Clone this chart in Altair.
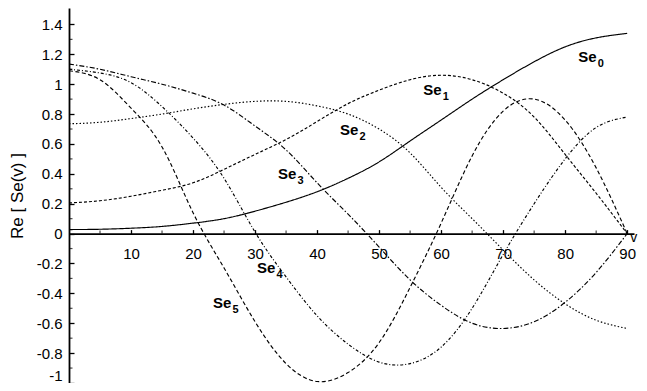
import altair as alt
import pandas as pd

# ---- data ----
v = [0, 5, 10, 15, 20, 25, 30, 35, 40, 45, 50, 55, 60, 65, 70, 75, 80, 85, 90]
se0 = [0.027, 0.029, 0.036, 0.048, 0.07, 0.10, 0.15, 0.21, 0.28, 0.37, 0.48, 0.62, 0.76, 0.90, 1.03, 1.15, 1.25, 1.31, 1.34]
se1 = [0.205, 0.22, 0.25, 0.29, 0.34, 0.43, 0.53, 0.63, 0.75, 0.87, 0.96, 1.03, 1.06, 1.03, 0.94, 0.78, 0.53, 0.27, 0.0]
se2 = [0.735, 0.745, 0.77, 0.80, 0.835, 0.865, 0.885, 0.885, 0.855, 0.80, 0.70, 0.54, 0.31, 0.10, -0.11, -0.31, -0.47, -0.58, -0.635]
se3 = [1.135, 1.10, 1.05, 1.00, 0.94, 0.86, 0.72, 0.56, 0.34, 0.13, -0.09, -0.31, -0.48, -0.60, -0.635, -0.59, -0.46, -0.26, 0.0]
se4 = [1.10, 1.075, 1.01, 0.85, 0.64, 0.37, 0.01, -0.29, -0.55, -0.74, -0.86, -0.87, -0.76, -0.50, -0.14, 0.20, 0.50, 0.71, 0.78]
se5 = [1.09, 1.03, 0.84, 0.58, 0.14, -0.23, -0.59, -0.87, -0.99, -0.93, -0.73, -0.36, 0.07, 0.52, 0.82, 0.90, 0.76, 0.44, 0.0]

series_names = ["Se0", "Se1", "Se2", "Se3", "Se4", "Se5"]
series_vals = [se0, se1, se2, se3, se4, se5]
dashes = [[1, 0], [3, 2], [1.5, 2], [5, 2, 1.5, 2], [3, 2, 1, 2], [4, 2.5]]

x_ticks = [10, 20, 30, 40, 50, 60, 70, 80, 90]
x_minor = [5, 15, 25, 35, 45, 55, 65, 75, 85]
y_ticks = [-1, -0.8, -0.6, -0.4, -0.2, 0, 0.2, 0.4, 0.6, 0.8, 1, 1.2, 1.4]
y_minor = [-0.9, -0.7, -0.5, -0.3, -0.1, 0.1, 0.3, 0.5, 0.7, 0.9, 1.1, 1.3]

lab_sub = ["0", "1", "2", "3", "4", "5"]
lab_x = [82.1, 57.1, 43.7, 33.7, 30.3, 23.2]
lab_y = [1.148, 0.927, 0.660, 0.365, -0.264, -0.498]

# ---- tables ----
rows = []
for name, vals in zip(series_names, series_vals):
    for xv, yv in zip(v, vals):
        rows.append({"x": xv, "y": yv, "series": name})
df = pd.DataFrame(rows)
labels = pd.DataFrame({"x": lab_x, "y": lab_y, "sub": lab_sub, "se": ["Se"] * 6})
xminor_df = pd.DataFrame({"x": x_minor})
yminor_df = pd.DataFrame({"y": y_minor})
vlab = pd.DataFrame({"x": [90.5], "y": [-0.055], "t": ["v"]})

FONT = "Liberation Sans"
W, H = 565, 375
y_min, y_max = -1, 1.51
zero_from_top = y_max / (y_max - y_min) * H

xs = alt.Scale(domain=[0, 91.1], nice=False, zero=False)
ys = alt.Scale(domain=[y_min, y_max], nice=False, zero=False)

x_axis = alt.Axis(
    orient="top", offset=-zero_from_top, values=x_ticks, tickSize=4, tickWidth=1.3,
    tickColor="black", domainColor="black", domainWidth=1.8, labelPadding=-17,
    labelBaseline="top", labelFont=FONT, labelFontSize=15, labelColor="black",
    labelOverlap=False, labelFlush=False, grid=False, title=None,
)
y_axis = alt.Axis(
    orient="right", offset=-W, values=y_ticks, tickSize=5, tickWidth=1.3,
    tickColor="black", domainColor="black", domainWidth=1.8, labelPadding=-12,
    labelAlign="right",
    labelBaseline={"condition": {"test": "datum.value == -1", "value": "bottom"}, "value": "middle"},
    labelFont=FONT, labelFontSize=15,
    labelColor="black", labelOverlap=False, labelFlush=False, grid=False,
    labelExpr="toString(datum.value)",
    title="Re [ Se(v) ]", titleFont=FONT, titleFontSize=17, titleFontWeight="normal",
    titleColor="black", titleAngle=270, titleX=-52, titleY=(H / 2), titleAlign="center",
    titleBaseline="middle",
)

lines = alt.Chart(df).mark_line(interpolate="natural", color="black", strokeWidth=1.15, clip=True).encode(
    x=alt.X("x:Q", scale=xs, axis=x_axis),
    y=alt.Y("y:Q", scale=ys, axis=y_axis),
    strokeDash=alt.StrokeDash("series:N", scale=alt.Scale(domain=series_names, range=dashes), legend=None),
    detail="series:N",
)

xm = alt.Chart(xminor_df).mark_tick(orient="vertical", size=3, thickness=1.2, color="black", yOffset=-1.5).encode(
    x=alt.X("x:Q", scale=xs, axis=x_axis),
    y=alt.Y(datum=0, scale=ys, axis=y_axis),
)
ym = alt.Chart(yminor_df).mark_tick(orient="horizontal", size=3.5, thickness=1.2, color="black", xOffset=1.75).encode(
    x=alt.X(datum=0, scale=xs, axis=x_axis),
    y=alt.Y("y:Q", scale=ys, axis=y_axis),
)

se_txt = alt.Chart(labels).mark_text(align="left", baseline="alphabetic", font=FONT, fontSize=15,
                                      fontWeight="bold", color="black").encode(
    x=alt.X("x:Q", scale=xs, axis=x_axis),
    y=alt.Y("y:Q", scale=ys, axis=y_axis),
    text="se:N",
)
sub_txt = alt.Chart(labels).mark_text(align="left", baseline="alphabetic", font=FONT, fontSize=11,
                                       fontWeight="bold", color="black", dx=19.5, dy=5).encode(
    x=alt.X("x:Q", scale=xs, axis=x_axis),
    y=alt.Y("y:Q", scale=ys, axis=y_axis),
    text="sub:N",
)
v_txt = alt.Chart(vlab).mark_text(align="left", baseline="alphabetic", font=FONT, fontSize=14,
                                   color="black").encode(
    x=alt.X("x:Q", scale=xs, axis=x_axis),
    y=alt.Y("y:Q", scale=ys, axis=y_axis),
    text="t:N",
)

chart = alt.layer(lines, xm, ym, se_txt, sub_txt, v_txt).properties(
    width=W, height=H,
    autosize=alt.AutoSizeParams(type="none"),
    padding={"left": 61, "top": 0, "right": 5, "bottom": 0},
    background="white",
).configure_view(stroke=None)

chart.save("out.html", embed_options={"renderer": "svg", "actions": False})
